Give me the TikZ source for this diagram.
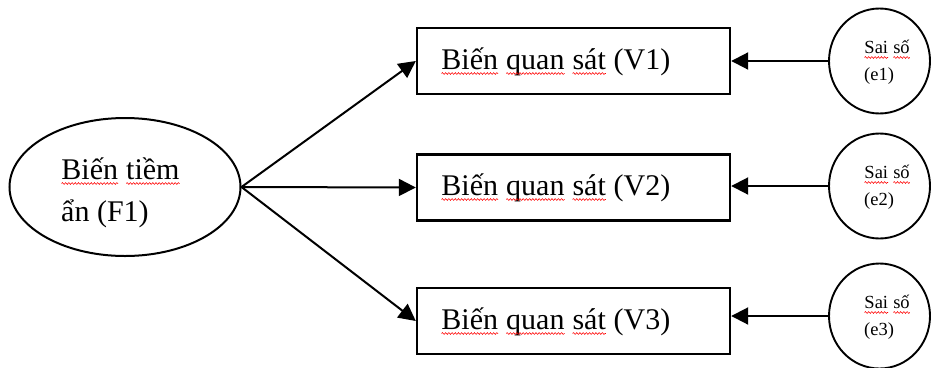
\documentclass[tikz,border=0pt]{standalone}
\usepackage{fontspec}
\setmainfont{Liberation Serif}
\usetikzlibrary{shapes.geometric,arrows.meta,decorations.pathmorphing}
\newcommand\sqw[1]{\tikz[baseline=(w.base)]{\node[rectangle,draw=none,fill=none,inner sep=0pt,outer sep=0pt,minimum width=0pt,minimum height=0pt,anchor=base](w){#1};\draw[red,line width=0.55pt,decorate,decoration={snake,amplitude=0.9pt,segment length=3.2pt}]([yshift=-4.5pt]w.base west)--([yshift=-4.5pt]w.base east);}}
\tikzset{
  latent/.style={ellipse,draw,line width=2pt,minimum width=231pt,minimum height=138pt,inner sep=0pt},
  obsbox/.style={rectangle,draw,line width=2.4pt,minimum width=313pt,minimum height=66pt,inner sep=0pt},
  errc/.style={ellipse,draw,line width=1.9pt,minimum width=101pt,minimum height=105pt,inner sep=0pt},
  bigtxt/.style={font=\fontsize{30}{36}\selectfont,inner sep=0pt,anchor=base west},
  smalltxt/.style={font=\fontsize{18.5}{22}\selectfont,inner sep=0pt,anchor=base west},
  arr/.style={line width=2pt,-{Triangle[length=17pt,width=17pt]}}
}
\begin{document}
\begin{tikzpicture}[x=1pt,y=-1pt]
\useasboundingbox (0,0) rectangle (939,367);
% shapes
\node[latent] (F1) at (125,187) {};
\node[obsbox] (V1) at (573.5,61) {};
\node[obsbox] (V2) at (573.5,187.5) {};
\node[obsbox] (V3) at (573.5,321) {};
\node[errc] (e1) at (879.5,61) {};
\node[errc] (e2) at (879.5,186) {};
\node[errc] (e3) at (879.5,316) {};
% texts
\node[bigtxt] (F1a) at (61,179) {\sqw{Biến} \sqw{tiềm}};
\node[bigtxt] (F1b) at (61,221) {ẩn (F1)};
\node[bigtxt] (V1t) at (441,69) {\sqw{Biến} \sqw{quan} \sqw{sát} (V1)};
\node[bigtxt] (V2t) at (441,195) {\sqw{Biến} \sqw{quan} \sqw{sát} (V2)};
\node[bigtxt] (V3t) at (441,329) {\sqw{Biến} \sqw{quan} \sqw{sát} (V3)};
\node[smalltxt] (e1a) at (864,53) {\sqw{Sai} \sqw{số}};
\node[smalltxt] (e1b) at (864,80) {(e1)};
\node[smalltxt] (e2a) at (864,178) {\sqw{Sai} \sqw{số}};
\node[smalltxt] (e2b) at (864,205) {(e2)};
\node[smalltxt] (e3a) at (864,308) {\sqw{Sai} \sqw{số}};
\node[smalltxt] (e3b) at (864,335) {(e3)};
% connectors
\draw[arr] (F1.east) -- (V1.west);
\draw[arr] (F1.east) -- (V2.west);
\draw[arr] (F1.east) -- (V3.west);
\draw[arr] (e1.west) -- (e1.west -| V1.east);
\draw[arr] (e2.west) -- (e2.west -| V2.east);
\draw[arr] (e3.west) -- (e3.west -| V3.east);
\end{tikzpicture}
\end{document}
